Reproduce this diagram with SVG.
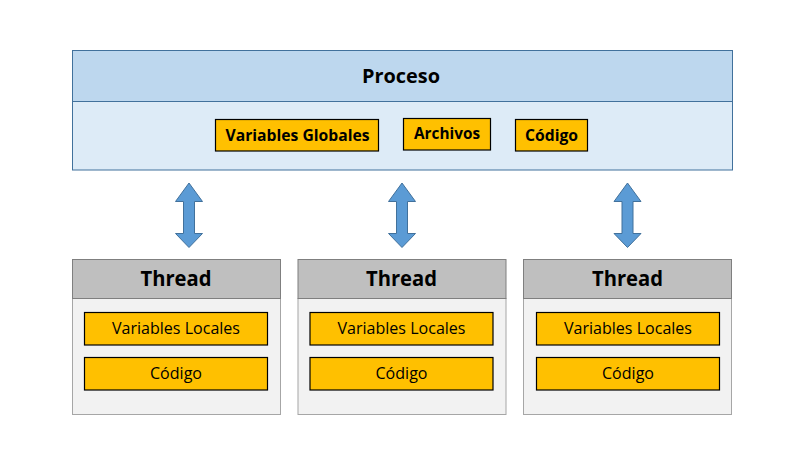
<svg xmlns="http://www.w3.org/2000/svg" width="810" height="476" viewBox="0 0 810 476">
<style>
text{font-family:"Open Sans","Liberation Sans",sans-serif;text-anchor:middle;dominant-baseline:central;fill:#000}
.b{font-weight:bold}
.y{fill:#FFC000;stroke:#000;stroke-width:1.2}
.th{fill:#BFBFBF;stroke:#7F7F7F;stroke-width:1}
.tb{fill:#F2F2F2;stroke:#A6A6A6;stroke-width:1}
.ar{fill:#5B9BD5;stroke:#41719C;stroke-width:1}
</style>
<rect width="810" height="476" fill="#fff"/>
<g id="proceso">
<rect x="72.5" y="50.5" width="660" height="51" fill="#BDD7EE" stroke="#41719C"/>
<rect x="72.5" y="101.5" width="660" height="68.5" fill="#DDEBF7" stroke="#41719C"/>
<text x="401" y="76" class="b" font-size="19" textLength="78" lengthAdjust="spacingAndGlyphs">Proceso</text>
<rect class="y" x="215.5" y="119.5" width="163" height="31.5"/>
<text x="297.5" y="135" class="b" font-size="16" textLength="144" lengthAdjust="spacingAndGlyphs">Variables Globales</text>
<rect class="y" x="403.5" y="118.5" width="87" height="31.5"/>
<text x="447" y="133" class="b" font-size="16" textLength="66" lengthAdjust="spacingAndGlyphs">Archivos</text>
<rect class="y" x="515.5" y="119.5" width="72" height="31.5"/>
<text x="551.5" y="135" class="b" font-size="16" textLength="53" lengthAdjust="spacingAndGlyphs">Código</text>
</g>
<g id="connectors">
<path class="ar" d="M189 183 L202.5 201.5 L194.5 201.5 L194.5 233.5 L202.5 233.5 L189 247.5 L175.5 233.5 L183.5 233.5 L183.5 201.5 L175.5 201.5 Z"/>
<path class="ar" d="M402 183 L415.5 201.5 L407.5 201.5 L407.5 233.5 L415.5 233.5 L402 247.5 L388.5 233.5 L396.5 233.5 L396.5 201.5 L388.5 201.5 Z"/>
<path class="ar" d="M627.5 183 L641 201.5 L633 201.5 L633 233.5 L641 233.5 L627.5 247.5 L614 233.5 L622 233.5 L622 201.5 L614 201.5 Z"/>
</g>
<g id="thread1">
<rect class="tb" x="72.5" y="298.5" width="208" height="116"/>
<rect class="th" x="72.5" y="259.5" width="208" height="39"/>
<text x="176" y="278" class="b" font-size="21" textLength="71" lengthAdjust="spacingAndGlyphs">Thread</text>
<rect class="y" x="84.5" y="312.5" width="183" height="32.5"/>
<text x="176" y="328" font-size="16" textLength="128" lengthAdjust="spacingAndGlyphs">Variables Locales</text>
<rect class="y" x="84.5" y="357.5" width="183" height="32.5"/>
<text x="176" y="373" font-size="16" textLength="52" lengthAdjust="spacingAndGlyphs">Código</text>
</g>
<g id="thread2">
<rect class="tb" x="298" y="298.5" width="208" height="116"/>
<rect class="th" x="298" y="259.5" width="208" height="39"/>
<text x="401.5" y="278" class="b" font-size="21" textLength="71" lengthAdjust="spacingAndGlyphs">Thread</text>
<rect class="y" x="310" y="312.5" width="183" height="32.5"/>
<text x="401.5" y="328" font-size="16" textLength="128" lengthAdjust="spacingAndGlyphs">Variables Locales</text>
<rect class="y" x="310" y="357.5" width="183" height="32.5"/>
<text x="401.5" y="373" font-size="16" textLength="52" lengthAdjust="spacingAndGlyphs">Código</text>
</g>
<g id="thread3">
<rect class="tb" x="523.5" y="298.5" width="208" height="116"/>
<rect class="th" x="523.5" y="259.5" width="208" height="39"/>
<text x="627.5" y="278" class="b" font-size="21" textLength="71" lengthAdjust="spacingAndGlyphs">Thread</text>
<rect class="y" x="536.5" y="312.5" width="183" height="32.5"/>
<text x="628" y="328" font-size="16" textLength="128" lengthAdjust="spacingAndGlyphs">Variables Locales</text>
<rect class="y" x="536.5" y="357.5" width="183" height="32.5"/>
<text x="628" y="373" font-size="16" textLength="52" lengthAdjust="spacingAndGlyphs">Código</text>
</g>
</svg>
